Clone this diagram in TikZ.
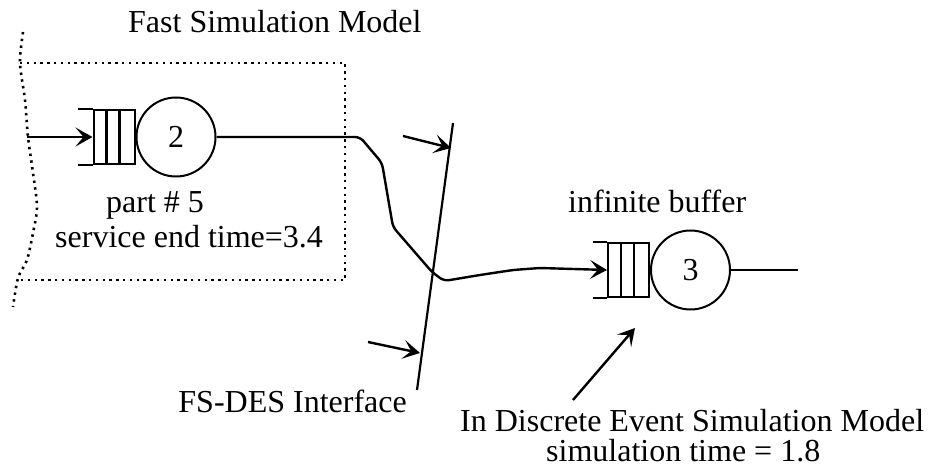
\documentclass[tikz,border=0pt]{standalone}
\usepackage{fontspec}
\setmainfont{Liberation Serif}
\usetikzlibrary{positioning,arrows.meta}

\begin{document}
\begin{tikzpicture}[
    x=1pt, y=-1pt,
    label/.style={font=\fontsize{32}{36}\selectfont, inner sep=0pt},
    buffer/.style={
      rectangle, draw=black, line width=2pt,
      minimum width=41pt, minimum height=54pt, inner sep=0pt
    },
    server/.style={
      circle, draw=black, line width=2pt, minimum size=79pt,
      inner sep=0pt, font=\fontsize{32}{36}\selectfont
    },
    flow/.style={line width=2.2pt},
    arrow/.style={-{Stealth[length=17pt,width=19pt,inset=8pt]}, line width=2.4pt},
    boundary/.style={line width=2.6pt, dash pattern=on 2.4pt off 4.4pt}
  ]
  \useasboundingbox (0,0) rectangle (930,470);

  % Fast simulation model region
  \draw[boundary] plot[smooth] coordinates {(23,32) (20,63) (25,100) (28,137)
    (33,173) (37,207) (33,233) (27,260) (18,278) (13,307)};
  \draw[boundary] (20,63) -- (345,63) -- (345,280) -- (18,280);

  % Station 2
  \node[buffer] (q1) at (114,137) {};
  \node[server, right=0pt of q1] (s2) {2};
  \draw[flow] ([xshift=14pt]q1.north west) -- ([xshift=14pt]q1.south west);
  \draw[flow] ([xshift=27pt]q1.north west) -- ([xshift=27pt]q1.south west);
  \draw[flow] (q1.north west) -- ++(-15,0);
  \draw[flow] (q1.south west) -- ++(-15,0);

  % Station 3
  \node[buffer] (q2) at (628.5,270) {};
  \node[server, right=0pt of q2] (s3) {3};
  \draw[flow] ([xshift=14pt]q2.north west) -- ([xshift=14pt]q2.south west);
  \draw[flow] ([xshift=27pt]q2.north west) -- ([xshift=27pt]q2.south west);
  \draw[flow] (q2.north west) -- ++(-14,0);
  \draw[flow] (q2.south west) -- ++(-14,0);

  % Interface line
  \coordinate (ifTop) at (453,123);
  \coordinate (ifBot) at (417,390);
  \draw[flow] (ifTop) -- (ifBot);

  % Free ends
  \coordinate (in1) at (27,137);
  \coordinate (out3) at (798,270);
  \coordinate (ptrA) at (403,136);
  \coordinate (hitA) at (451,148);
  \coordinate (ptrB) at (368,342);
  \coordinate (hitB) at (420,353);
  \coordinate (noteTail) at (573,400);
  \coordinate (noteHead) at (635,328);

  % Labels
  \node[label, anchor=base west] (fsm) at (128,33) {Fast Simulation Model};
  \node[label, anchor=base west] (part) at (106,213) {part \# 5};
  \node[label, anchor=base west] (endtime) at (55,248) {service end time=3.4};
  \node[label, anchor=base west] (buf) at (568,213) {infinite buffer};
  \node[label, anchor=base east] (ifname) at (407,413) {FS-DES Interface};
  \node[label, anchor=base west] (desnote) at (460,432) {In Discrete Event Simulation Model};
  \node[label, anchor=base west] (simtime) at (546,462) {simulation time = 1.8};

  % Connectors
  \draw[arrow] (in1) -- (q1.west);
  \draw[arrow, rounded corners=5pt] (s2.east) -- (360,137) -- (382,163) -- (393,227)
    -- (432,272) -- (444,281) -- (480,275) -- (513,270) -- (540,268) -- (q2.west);
  \draw[flow] (s3.east) -- (out3);
  \draw[arrow] (ptrA) -- (hitA);
  \draw[arrow] (ptrB) -- (hitB);
  \draw[arrow] (noteTail) -- (noteHead);

\end{tikzpicture}
\end{document}
